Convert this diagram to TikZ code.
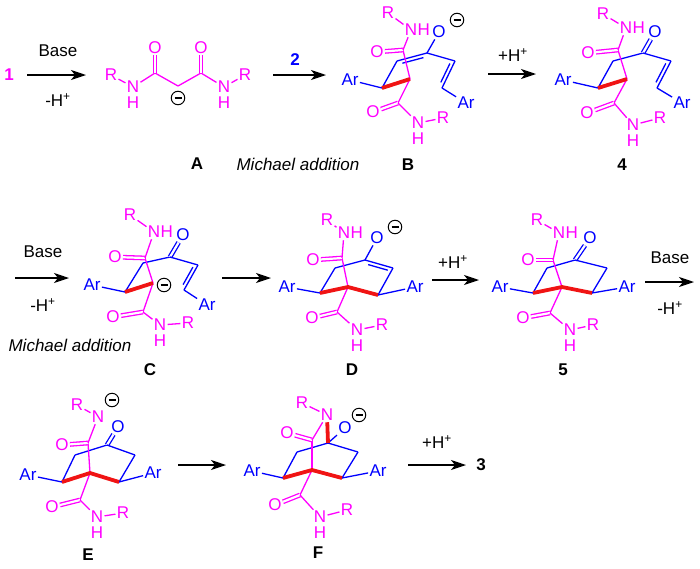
\documentclass[tikz,border=0pt]{standalone}
\usepackage{fontspec}
\setmainfont{Liberation Sans}
\usetikzlibrary{calc,positioning,arrows.meta}

\definecolor{chemmg}{RGB}{255,0,255}
\definecolor{chembl}{RGB}{0,0,255}
\definecolor{chemrd}{RGB}{240,20,20}

\tikzset{
  atom/.style={inner sep=1.2pt},
  mg/.style={text=chemmg},
  bl/.style={text=chembl},
  bond/.style={line width=1.3pt},
  mgbond/.style={bond, chemmg},
  blbond/.style={bond, chembl},
  newbond/.style={chemrd, line width=3.8pt},
  dbl/.style={double=white, double distance=2.2pt},
  neg/.style={circle, draw, line width=1pt, minimum size=13.5pt, inner sep=0pt,
    path picture={\draw[line width=1.2pt] ([xshift=-3.5pt]path picture bounding box.center) -- ([xshift=3.5pt]path picture bounding box.center);}},
  rxn/.style={line width=1.3pt, -{Stealth[length=15pt,width=10pt,inset=4pt]}},
  cpd/.style={font=\bfseries\fontsize{17}{19}\selectfont}
}

\begin{document}
\begin{tikzpicture}[x=1pt, y=-1pt, font=\fontsize{17}{19}\selectfont]
\useasboundingbox (0,0) rectangle (700,568);

% first row
\node[cpd, mg] (one) at (9,75) {1};
\coordinate (r1_s) at (27,75);
\coordinate (r1_e) at (86,75);
\draw[rxn] (r1_s) -- (r1_e);
\node (r1_top) at (58,51) {Base};
\node (r1_bot) at (58,100) {-H\textsuperscript{+}};

% A
\coordinate (a_c1) at (155,73);
\coordinate (a_c2) at (178,86);
\coordinate (a_c3) at (201,73);
\node[atom,mg] (a_r1) at (111,75) {R};
\node[atom,mg] (a_n1) at (133,87) {N};
\node[atom,mg,below=1.4pt of a_n1] (a_h1) {H};
\node[atom,mg] (a_o1) at (155,48) {O};
\node[atom,mg] (a_o2) at (201,48) {O};
\node[atom,mg] (a_n2) at (224,87) {N};
\node[atom,mg,below=1.4pt of a_n2] (a_h2) {H};
\node[atom,mg] (a_r2) at (245,75) {R};
\node[neg] (a_neg) at (178,98) {};
\path[mgbond] (a_r1) edge (a_n1) (a_n1) edge (a_c1) (a_c1) edge (a_c2)
  (a_c2) edge (a_c3) (a_c3) edge (a_n2) (a_n2) edge (a_r2)
  (a_c1) edge[dbl] (a_o1) (a_c3) edge[dbl] (a_o2);
\node[cpd] (a_lbl) at (197,164) {A};
\node (ma_1) at (298,164) {\itshape Michael addition};

\coordinate (r2_s) at (273,75);
\coordinate (r2_e) at (326,75);
\draw[rxn] (r2_s) -- (r2_e);
\node[cpd, bl] (two) at (295,60) {2};

% B
\coordinate (b_ca) at (382,88);
\coordinate (b_cv) at (397,61);
\coordinate (b_ce) at (427,53);
\coordinate (b_cw) at (455,61);
\coordinate (b_cx) at (442,88);
\coordinate (b_q) at (410,79);
\coordinate (b_cu) at (403,50);
\coordinate (b_cl) at (398,103);
\node[atom,bl] (b_ar1) at (350,80) {Ar};
\node[atom,bl] (b_ar2) at (466,103) {Ar};
\node[atom,bl] (b_o) at (439,32) {O};
\node[neg] (b_neg) at (457,20) {};
\node[atom,mg] (b_r1) at (388,13) {R};
\node[atom,mg] (b_n1) at (411,30) {N};
\node[atom,mg,right=-2.4pt of b_n1] (b_h1) {H};
\node[atom,mg] (b_o1) at (377,52) {O};
\node[atom,mg] (b_o2) at (373,112) {O};
\node[atom,mg] (b_n2) at (418,123) {N};
\node[atom,mg,below=1.4pt of b_n2] (b_h2) {H};
\node[atom,mg] (b_r2) at (443,118) {R};
\path[blbond] (b_ar1) edge (b_ca) (b_ca) edge (b_cv) (b_cv) edge (b_ce)
  (b_ce) edge (b_o) (b_ce) edge (b_cw) (b_cw) edge (b_cx) (b_cx) edge (b_ar2);
\draw[blbond] (402.4,63.2) -- (423.4,57.6);
\draw[blbond] (449.9,63.5) -- (440.8,82.4);
\path[mgbond] (b_q) edge (b_cu) (b_cu) edge[dbl] (b_o1) (b_cu) edge (b_n1)
  (b_n1) edge (b_r1) (b_q) edge (b_cl) (b_cl) edge[dbl] (b_o2)
  (b_cl) edge (b_n2) (b_n2) edge (b_r2);
\draw[newbond] (b_ca) -- (b_q);
\node[cpd] (b_lbl) at (408,165) {B};

\coordinate (r3_s) at (488,74);
\coordinate (r3_e) at (536,74);
\draw[rxn] (r3_s) -- (r3_e);
\node (r3_top) at (513,55) {+H\textsuperscript{+}};

% 4
\coordinate (p4_ca) at (598,88);
\coordinate (p4_cv) at (613,61);
\coordinate (p4_ck) at (643,53);
\coordinate (p4_cw) at (671,61);
\coordinate (p4_cx) at (657,88);
\coordinate (p4_q) at (627,79);
\coordinate (p4_cu) at (618,50);
\coordinate (p4_cl) at (614,103);
\node[atom,bl] (p4_ar1) at (563,80) {Ar};
\node[atom,bl] (p4_ar2) at (682,103) {Ar};
\node[atom,bl] (p4_o) at (655,32) {O};
\node[atom,mg] (p4_r1) at (603,14) {R};
\node[atom,mg] (p4_n1) at (626,28) {N};
\node[atom,mg,right=-2.4pt of p4_n1] (p4_h1) {H};
\node[atom,mg] (p4_o1) at (588,53) {O};
\node[atom,mg] (p4_o2) at (587,113) {O};
\node[atom,mg] (p4_n2) at (633,125) {N};
\node[atom,mg,below=1.4pt of p4_n2] (p4_h2) {H};
\node[atom,mg] (p4_r2) at (660,118) {R};
\path[blbond] (p4_ar1) edge (p4_ca) (p4_ca) edge (p4_cv) (p4_cv) edge (p4_ck)
  (p4_ck) edge[dbl] (p4_o) (p4_ck) edge (p4_cw) (p4_cw) edge (p4_cx) (p4_cx) edge (p4_ar2);
\draw[blbond] (665.8,63.4) -- (656,82.3);
\path[mgbond] (p4_q) edge (p4_cu) (p4_cu) edge[dbl] (p4_o1) (p4_cu) edge (p4_n1)
  (p4_n1) edge (p4_r1) (p4_q) edge (p4_cl) (p4_cl) edge[dbl] (p4_o2)
  (p4_cl) edge (p4_n2) (p4_n2) edge (p4_r2);
\draw[newbond] (p4_ca) -- (p4_q);
\node[cpd] (p4_lbl) at (622,165) {4};

% second row
\coordinate (r4_s) at (15,278);
\coordinate (r4_e) at (69,278);
\draw[rxn] (r4_s) -- (r4_e);
\node (r4_top) at (43,252) {Base};
\node (r4_bot) at (43,305) {-H\textsuperscript{+}};
\node (ma_2) at (70,345) {\itshape Michael addition};

% C
\coordinate (c_ca) at (125,292);
\coordinate (c_cv) at (143,263);
\coordinate (c_ck) at (170,257);
\coordinate (c_cw) at (198,265);
\coordinate (c_cx) at (184,290);
\coordinate (c_q) at (153,283);
\coordinate (c_cu) at (145,258);
\coordinate (c_cl) at (143,312);
\node[atom,bl] (c_ar1) at (92,285) {Ar};
\node[atom,bl] (c_ar2) at (207,305) {Ar};
\node[atom,bl] (c_o) at (183,235) {O};
\node[neg] (c_neg) at (164,285) {};
\node[atom,mg] (c_r1) at (130,215) {R};
\node[atom,mg] (c_n1) at (154,232) {N};
\node[atom,mg,right=-2.4pt of c_n1] (c_h1) {H};
\node[atom,mg] (c_o1) at (115,257) {O};
\node[atom,mg] (c_o2) at (113,317) {O};
\node[atom,mg] (c_n2) at (160,325) {N};
\node[atom,mg,below=1.4pt of c_n2] (c_h2) {H};
\node[atom,mg] (c_r2) at (188,323) {R};
\path[blbond] (c_ar1) edge (c_ca) (c_ca) edge (c_cv) (c_cv) edge (c_ck)
  (c_ck) edge[dbl] (c_o) (c_ck) edge (c_cw) (c_cw) edge (c_cx) (c_cx) edge (c_ar2);
\draw[blbond] (192.9,267.1) -- (183.1,284.6);
\path[mgbond] (c_q) edge (c_cu) (c_cu) edge[dbl] (c_o1) (c_cu) edge (c_n1)
  (c_n1) edge (c_r1) (c_q) edge (c_cl) (c_cl) edge[dbl] (c_o2)
  (c_cl) edge (c_n2) (c_n2) edge (c_r2);
\draw[newbond] (c_ca) -- (c_q);
\node[cpd] (c_lbl) at (150,370) {C};

\coordinate (r5_s) at (222,278);
\coordinate (r5_e) at (271,278);
\draw[rxn] (r5_s) -- (r5_e);

% D
\coordinate (d_ca) at (320,293);
\coordinate (d_cv) at (335,268);
\coordinate (d_ce) at (365,260);
\coordinate (d_cw) at (393,268);
\coordinate (d_cb) at (378,295);
\coordinate (d_q) at (348,287);
\coordinate (d_cu) at (342,258);
\coordinate (d_cl) at (337,312);
\node[atom,bl] (d_ar1) at (287,287) {Ar};
\node[atom,bl] (d_ar2) at (415,287) {Ar};
\node[atom,bl] (d_o) at (377,238) {O};
\node[neg] (d_neg) at (395,227) {};
\node[atom,mg] (d_r1) at (327,220) {R};
\node[atom,mg] (d_n1) at (344,233) {N};
\node[atom,mg,right=-2.4pt of d_n1] (d_h1) {H};
\node[atom,mg] (d_o1) at (313,260) {O};
\node[atom,mg] (d_o2) at (312,318) {O};
\node[atom,mg] (d_n2) at (357,330) {N};
\node[atom,mg,below=1.4pt of d_n2] (d_h2) {H};
\node[atom,mg] (d_r2) at (382,325) {R};
\path[blbond] (d_ar1) edge (d_ca) (d_ca) edge (d_cv) (d_cv) edge (d_ce)
  (d_ce) edge (d_o) (d_ce) edge (d_cw) (d_cw) edge (d_cb) (d_cb) edge (d_ar2);
\draw[blbond] (368.2,264.6) -- (387.8,270.2);
\path[mgbond] (d_q) edge (d_cu) (d_cu) edge[dbl] (d_o1) (d_cu) edge (d_n1)
  (d_n1) edge (d_r1) (d_q) edge (d_cl) (d_cl) edge[dbl] (d_o2)
  (d_cl) edge (d_n2) (d_n2) edge (d_r2);
\draw[newbond] (d_ca) -- (d_q) -- (d_cb);
\node[cpd] (d_lbl) at (352,370) {D};

\coordinate (r6_s) at (432,280);
\coordinate (r6_e) at (479,280);
\draw[rxn] (r6_s) -- (r6_e);
\node (r6_top) at (453,262) {+H\textsuperscript{+}};

% 5
\coordinate (p5_ca) at (533,293);
\coordinate (p5_cv) at (547,268);
\coordinate (p5_ck) at (575,260);
\coordinate (p5_cw) at (607,268);
\coordinate (p5_cb) at (592,293);
\coordinate (p5_q) at (562,287);
\coordinate (p5_cu) at (553,260);
\coordinate (p5_cl) at (550,313);
\node[atom,bl] (p5_ar1) at (500,287) {Ar};
\node[atom,bl] (p5_ar2) at (627,287) {Ar};
\node[atom,bl] (p5_o) at (590,238) {O};
\node[atom,mg] (p5_r1) at (537,220) {R};
\node[atom,mg] (p5_n1) at (559,233) {N};
\node[atom,mg,right=-2.4pt of p5_n1] (p5_h1) {H};
\node[atom,mg] (p5_o1) at (528,260) {O};
\node[atom,mg] (p5_o2) at (523,318) {O};
\node[atom,mg] (p5_n2) at (570,330) {N};
\node[atom,mg,below=1.4pt of p5_n2] (p5_h2) {H};
\node[atom,mg] (p5_r2) at (593,325) {R};
\path[blbond] (p5_ar1) edge (p5_ca) (p5_ca) edge (p5_cv) (p5_cv) edge (p5_ck)
  (p5_ck) edge[dbl] (p5_o) (p5_ck) edge (p5_cw) (p5_cw) edge (p5_cb) (p5_cb) edge (p5_ar2);
\path[mgbond] (p5_q) edge (p5_cu) (p5_cu) edge[dbl] (p5_o1) (p5_cu) edge (p5_n1)
  (p5_n1) edge (p5_r1) (p5_q) edge (p5_cl) (p5_cl) edge[dbl] (p5_o2)
  (p5_cl) edge (p5_n2) (p5_n2) edge (p5_r2);
\draw[newbond] (p5_ca) -- (p5_q) -- (p5_cb);
\node[cpd] (p5_lbl) at (563,370) {5};

\coordinate (r7_s) at (645,282);
\coordinate (r7_e) at (694,282);
\draw[rxn] (r7_s) -- (r7_e);
\node (r7_top) at (670,258) {Base};
\node (r7_bot) at (670,308) {-H\textsuperscript{+}};

% third row
% E
\coordinate (e_ca) at (62,482);
\coordinate (e_cv) at (75,455);
\coordinate (e_ck) at (107,445);
\coordinate (e_cw) at (135,455);
\coordinate (e_cb) at (119,482);
\coordinate (e_q) at (90,473);
\coordinate (e_cu) at (88,443);
\coordinate (e_cl) at (80,500);
\node[atom,bl] (e_ar1) at (28,475) {Ar};
\node[atom,bl] (e_ar2) at (153,473) {Ar};
\node[atom,bl] (e_o) at (118,427) {O};
\node[atom,mg] (e_r1) at (77,405) {R};
\node[atom,mg] (e_n1) at (98,417) {N};
\node[neg] (e_neg) at (112,400) {};
\node[atom,mg] (e_o1) at (62,445) {O};
\node[atom,mg] (e_o2) at (52,507) {O};
\node[atom,mg] (e_n2) at (97,517) {N};
\node[atom,mg,below=1.4pt of e_n2] (e_h2) {H};
\node[atom,mg] (e_r2) at (123,513) {R};
\path[blbond] (e_ar1) edge (e_ca) (e_ca) edge (e_cv) (e_cv) edge (e_ck)
  (e_ck) edge[dbl] (e_o) (e_ck) edge (e_cw) (e_cw) edge (e_cb) (e_cb) edge (e_ar2);
\path[mgbond] (e_q) edge (e_cu) (e_cu) edge[dbl] (e_o1) (e_cu) edge (e_n1)
  (e_n1) edge (e_r1) (e_q) edge (e_cl) (e_cl) edge[dbl] (e_o2)
  (e_cl) edge (e_n2) (e_n2) edge (e_r2);
\draw[newbond] (e_ca) -- (e_q) -- (e_cb);
\node[cpd] (e_lbl) at (88,555) {E};

\coordinate (r8_s) at (178,465);
\coordinate (r8_e) at (226,465);
\draw[rxn] (r8_s) -- (r8_e);

% F
\coordinate (f_ca) at (283,478);
\coordinate (f_cv) at (297,452);
\coordinate (f_ck) at (328,443);
\coordinate (f_cw) at (358,452);
\coordinate (f_cb) at (342,478);
\coordinate (f_q) at (312,470);
\coordinate (f_cu) at (312,440);
\coordinate (f_cl) at (300,495);
\node[atom,bl] (f_ar1) at (252,471) {Ar};
\node[atom,bl] (f_ar2) at (378,471) {Ar};
\node[atom,bl] (f_o) at (345,428) {O};
\node[neg] (f_neg) at (359,415) {};
\node[atom,mg] (f_r1) at (302,403) {R};
\node[atom,mg] (f_n1) at (327,415) {N};
\node[atom,mg] (f_o1) at (287,433) {O};
\node[atom,mg] (f_o2) at (275,505) {O};
\node[atom,mg] (f_n2) at (320,517) {N};
\node[atom,mg,below=1.4pt of f_n2] (f_h2) {H};
\node[atom,mg] (f_r2) at (347,510) {R};
\path[blbond] (f_ar1) edge (f_ca) (f_ca) edge (f_cv) (f_cv) edge (f_ck)
  (f_ck) edge (f_o) (f_ck) edge (f_cw) (f_cw) edge (f_cb) (f_cb) edge (f_ar2);
\path[mgbond] (f_q) edge (f_cu) (f_cu) edge[dbl] (f_o1) (f_cu) edge (f_n1)
  (f_n1) edge (f_r1) (f_q) edge (f_cl) (f_cl) edge[dbl] (f_o2)
  (f_cl) edge (f_n2) (f_n2) edge (f_r2);
\draw[newbond] (f_ca) -- (f_q) -- (f_cb);
\path[newbond] (f_n1) edge (f_ck);
\node[cpd] (f_lbl) at (318,553) {F};

\coordinate (r9_s) at (408,465);
\coordinate (r9_e) at (466,465);
\draw[rxn] (r9_s) -- (r9_e);
\node (r9_top) at (437,442) {+H\textsuperscript{+}};
\node[cpd] (three) at (481,465) {3};
\end{tikzpicture}
\end{document}
